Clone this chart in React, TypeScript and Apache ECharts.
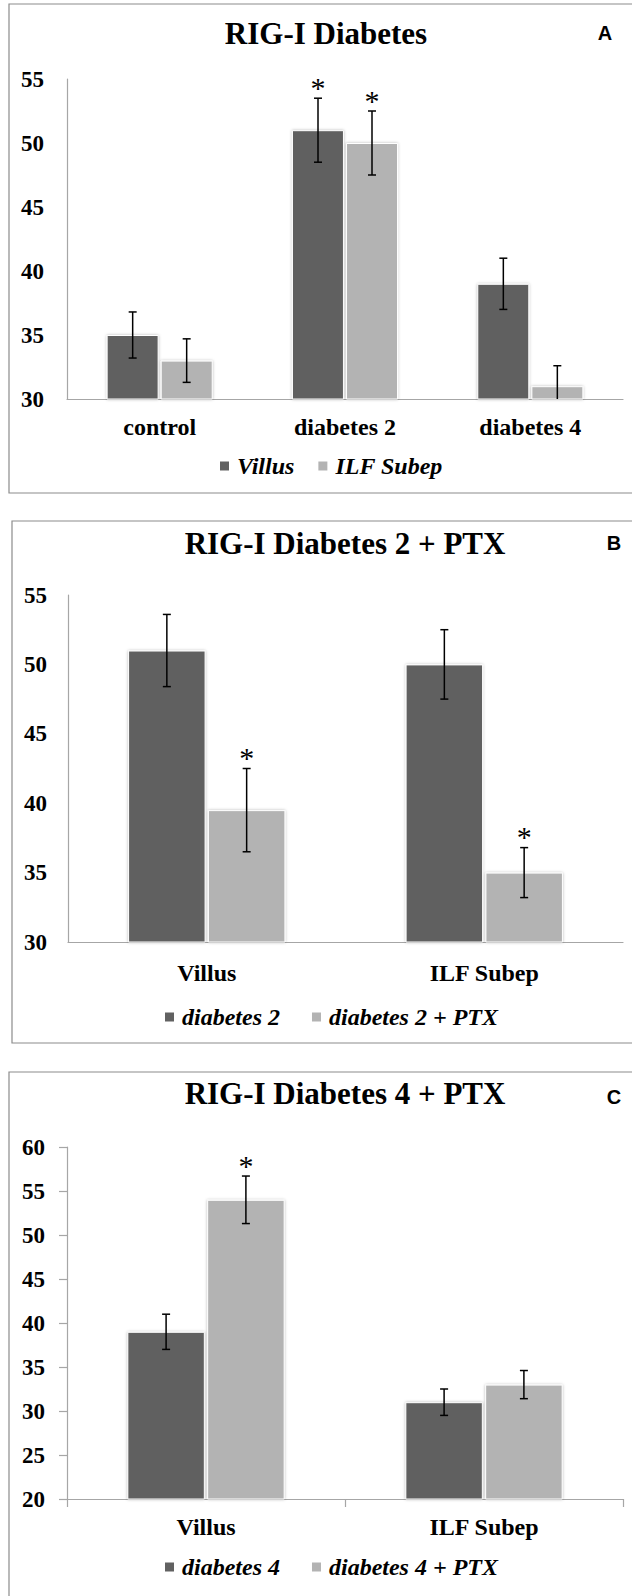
import React, { useEffect, useRef } from "react";
import * as echarts from "echarts";

// ---------- Panel A: RIG-I Diabetes ----------
const catsA = ["control", "diabetes 2", "diabetes 4"];
const villusA = [35, 51, 39];
const villusErrA = [1.8, 2.5, 2.0];
const villusSigA = [0, 1, 0];
const ilfA = [33, 50, 31];
const ilfErrA = [1.7, 2.5, 1.6];
const ilfSigA = [0, 1, 0];

// ---------- Panel B: RIG-I Diabetes 2 + PTX ----------
const catsB = ["Villus", "ILF Subep"];
const d2B = [51, 50];
const d2ErrB = [2.6, 2.5];
const d2SigB = [0, 0];
const ptxB = [39.5, 35];
const ptxErrB = [3.0, 1.8];
const ptxSigB = [1, 1];

// ---------- Panel C: RIG-I Diabetes 4 + PTX ----------
const catsC = ["Villus", "ILF Subep"];
const d4C = [39, 31];
const d4ErrC = [2.0, 1.5];
const d4SigC = [0, 0];
const ptxC = [54, 33];
const ptxErrC = [2.7, 1.6];
const ptxSigC = [1, 0];

const titles = ["RIG-I Diabetes", "RIG-I Diabetes 2 + PTX", "RIG-I Diabetes 4 + PTX"];
const letters = ["A", "B", "C"];
const legendA = ["Villus", "ILF Subep"];
const legendB = ["diabetes 2", "diabetes 2 + PTX"];
const legendC = ["diabetes 4", "diabetes 4 + PTX"];

const DARK = "#616161";
const LIGHT = "#b3b3b3";
const SERIF = "Liberation Serif";
const SANS = "Liberation Sans";

function errSeries(
  idx: number,
  vals: number[],
  errs: number[],
  sigs: number[],
  offset: number,
  axisMin: number
) {
  return {
    type: "custom",
    xAxisIndex: idx,
    yAxisIndex: idx,
    silent: true,
    z: 10,
    encode: { x: 0, y: 1 },
    data: vals.map((v, i) => [i, v, errs[i], sigs[i]]),
    renderItem: (params: any, api: any) => {
      const i = api.value(0);
      const v = api.value(1);
      const e = api.value(2);
      const s = api.value(3);
      const c = api.coord([i, v]);
      const x = c[0] + offset;
      const top = api.coord([i, v + e])[1];
      const lowVal = v - e;
      const bot = api.coord([i, Math.max(lowVal, axisMin)])[1];
      const st = { stroke: "#000", lineWidth: 1.5 };
      const children: any[] = [
        { type: "line", shape: { x1: x, y1: top, x2: x, y2: bot }, style: st },
        { type: "line", shape: { x1: x - 4, y1: top, x2: x + 4, y2: top }, style: st },
      ];
      if (lowVal >= axisMin) {
        children.push({ type: "line", shape: { x1: x - 4, y1: bot, x2: x + 4, y2: bot }, style: st });
      }
      if (s) {
        children.push({
          type: "text",
          x: x,
          y: top - 11,
          style: {
            text: "*",
            fontSize: 30,
            fontFamily: SERIF,
            fontWeight: "normal",
            fill: "#000",
            textAlign: "center",
            textVerticalAlign: "middle",
          },
        });
      }
      return { type: "group", children };
    },
  };
}

function barSeries(idx: number, name: string, data: number[], color: string, width: number, gap: string) {
  return {
    type: "bar",
    name,
    xAxisIndex: idx,
    yAxisIndex: idx,
    data,
    barWidth: width,
    barGap: gap,
    itemStyle: {
      color,
      borderColor: "#ffffff",
      borderWidth: 1,
      shadowColor: "rgba(0,0,0,0.28)",
      shadowBlur: 3,
    },
  };
}

const axisLineStyle = { color: "#a6a6a6", width: 1.2 };

function xAxis(idx: number, cats: string[], margin: number, ticks: boolean) {
  return {
    type: "category",
    gridIndex: idx,
    data: cats,
    axisLine: { show: true, lineStyle: axisLineStyle },
    axisTick: { show: ticks, length: 8, lineStyle: axisLineStyle },
    axisLabel: {
      margin,
      color: "#000",
      fontFamily: SERIF,
      fontWeight: "bold",
      fontSize: 24,
    },
    splitLine: { show: false },
  };
}

function yAxis(idx: number, min: number, max: number, margin: number, ticks: boolean) {
  return {
    type: "value",
    gridIndex: idx,
    min,
    max,
    interval: 5,
    axisLine: { show: true, lineStyle: axisLineStyle },
    axisTick: { show: ticks, length: 8, lineStyle: axisLineStyle },
    splitLine: { show: false },
    axisLabel: {
      margin,
      color: "#000",
      fontFamily: SERIF,
      fontWeight: "bold",
      fontSize: 23,
    },
  };
}

function legend(data: string[], left: number, centerY: number, gap: number) {
  return {
    data,
    left,
    top: centerY - 12,
    padding: 0,
    icon: "rect",
    itemWidth: 11,
    itemHeight: 11,
    itemGap: gap,
    textStyle: {
      color: "#000",
      fontFamily: SERIF,
      fontStyle: "italic",
      fontWeight: "bold",
      fontSize: 24,
      lineHeight: 24,
      padding: [0, 0, 0, 2],
    },
  };
}

function letterText(t: string, x: number, y: number) {
  return {
    type: "text",
    x,
    y,
    style: {
      text: t,
      fontFamily: SANS,
      fontWeight: "bold",
      fontSize: 20,
      fill: "#000",
      textAlign: "center",
      textVerticalAlign: "middle",
    },
  };
}

export default function App() {
  const ref = useRef<HTMLDivElement>(null);
  useEffect(() => {
    if (!ref.current) return;
    const chart = echarts.init(ref.current, null, { renderer: "svg" });
    const option: any = {
      animation: false,
      backgroundColor: "#ffffff",
      textStyle: { fontFamily: SERIF },
      title: [
        { text: titles[0], left: 326, top: 33, textAlign: "center", textVerticalAlign: "middle" },
        { text: titles[1], left: 345, top: 543, textAlign: "center", textVerticalAlign: "middle" },
        { text: titles[2], left: 345, top: 1093, textAlign: "center", textVerticalAlign: "middle" },
      ].map((t) => ({
        ...t,
        padding: 0,
        textStyle: { fontFamily: SERIF, fontWeight: "bold", fontSize: 31, color: "#000" },
      })),
      legend: [legend(legendA, 218, 466, 22), legend(legendB, 163, 1017, 30), legend(legendC, 163, 1567, 30)],
      grid: [
        { left: 67, top: 79, width: 556, height: 320, outerBoundsMode: "none" },
        { left: 68, top: 595, width: 555, height: 347, outerBoundsMode: "none" },
        { left: 67, top: 1147, width: 556, height: 352, outerBoundsMode: "none" },
      ],
      xAxis: [xAxis(0, catsA, 16, false), xAxis(1, catsB, 19, false), xAxis(2, catsC, 16, true)],
      yAxis: [yAxis(0, 30, 55, 23, false), yAxis(1, 30, 55, 21, false), yAxis(2, 20, 60, 22, true)],
      series: [
        barSeries(0, legendA[0], villusA, DARK, 52, "4%"),
        barSeries(0, legendA[1], ilfA, LIGHT, 52, "4%"),
        errSeries(0, villusA, villusErrA, villusSigA, -27, 30),
        errSeries(0, ilfA, ilfErrA, ilfSigA, 27, 30),

        barSeries(1, legendB[0], d2B, DARK, 77.5, "3%"),
        barSeries(1, legendB[1], ptxB, LIGHT, 77.5, "3%"),
        errSeries(1, d2B, d2ErrB, d2SigB, -39.9, 30),
        errSeries(1, ptxB, ptxErrB, ptxSigB, 39.9, 30),

        barSeries(2, legendC[0], d4C, DARK, 77.5, "3%"),
        barSeries(2, legendC[1], ptxC, LIGHT, 77.5, "3%"),
        errSeries(2, d4C, d4ErrC, d4SigC, -39.9, 20),
        errSeries(2, ptxC, ptxErrC, ptxSigC, 39.9, 20),
      ],
      graphic: [
        { type: "rect", shape: { x: 9, y: 4, width: 640, height: 489 }, style: { fill: "none", stroke: "#8c8c8c", lineWidth: 1.2 }, silent: true },
        { type: "rect", shape: { x: 12, y: 521, width: 640, height: 522 }, style: { fill: "none", stroke: "#8c8c8c", lineWidth: 1.2 }, silent: true },
        { type: "rect", shape: { x: 9, y: 1072, width: 640, height: 600 }, style: { fill: "none", stroke: "#8c8c8c", lineWidth: 1.2 }, silent: true },
        letterText(letters[0], 605, 33),
        letterText(letters[1], 614, 543),
        letterText(letters[2], 614, 1097),
      ],
    };
    chart.setOption(option);
    return () => chart.dispose();
  }, []);
  return (
    <div
      ref={ref}
      style={{ position: "absolute", left: 0, top: 0, width: 632, height: 1596, background: "#fff" }}
    />
  );
}
